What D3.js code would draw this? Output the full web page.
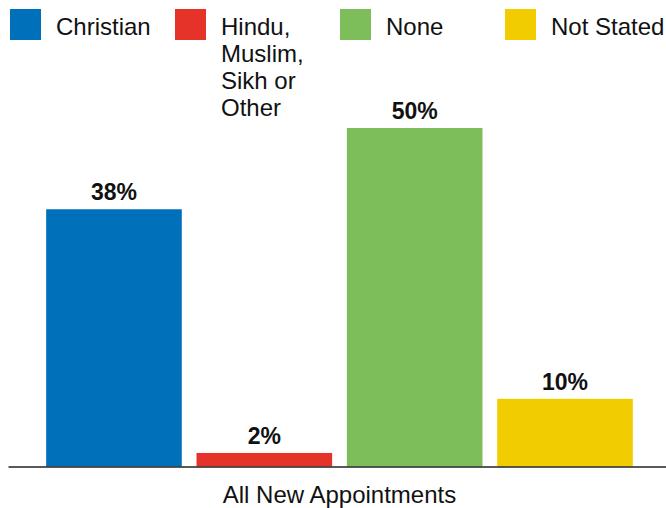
<!DOCTYPE html>
<html>
<head>
<meta charset="utf-8">
<script src="https://cdn.jsdelivr.net/npm/d3@7"></script>
<style>
  html, body { margin: 0; padding: 0; background: #fff; }
  svg { display: block; font-family: "Liberation Sans", Arial, sans-serif; }
</style>
</head>
<body>
<svg id="chart" width="666" height="508"></svg>
<script>
const categories = ["Christian", "Hindu, Muslim, Sikh or Other", "None", "Not Stated"];
const legendLines = [["Christian"], ["Hindu,", "Muslim,", "Sikh or", "Other"], ["None"], ["Not Stated"]];
const values = [38, 2, 50, 10];
const colors = ["#0070BA", "#E5332A", "#7DBD5A", "#F0CC00"];
const xLabel = "All New Appointments";

const svg = d3.select("#chart");
const baseline = 466.5;

const x = d3.scaleBand().domain(categories).range([38.8, 640.2]).paddingInner(0.098).paddingOuter(0.049);
const y = d3.scaleLinear().domain([0, 50]).range([baseline, 128]);

// bars
svg.append("g").selectAll("rect").data(values).join("rect")
  .attr("x", (d, i) => x(categories[i]))
  .attr("width", x.bandwidth())
  .attr("y", d => y(d))
  .attr("height", d => y(0) - y(d))
  .attr("fill", (d, i) => colors[i]);

// value labels
svg.append("g").selectAll("text").data(values).join("text")
  .attr("x", (d, i) => x(categories[i]) + x.bandwidth() / 2)
  .attr("y", d => y(d) - 9)
  .attr("text-anchor", "middle")
  .attr("font-size", 23)
  .attr("font-weight", "bold")
  .attr("fill", "#111")
  .text(d => d + "%");

// axis baseline
const xAxis = d3.axisBottom(x).tickSize(0).tickFormat("");
const axisG = svg.append("g").attr("transform", `translate(0,${baseline})`).call(xAxis);
axisG.select(".domain").remove();
axisG.append("line").attr("x1", 8.5).attr("x2", 666).attr("y1", 0.5).attr("y2", 0.5)
  .attr("stroke", "#222").attr("stroke-width", 1.5);

// x label
svg.append("text")
  .attr("x", (x.range()[0] + x.range()[1]) / 2)
  .attr("y", 503)
  .attr("text-anchor", "middle")
  .attr("font-size", 24)
  .attr("fill", "#111")
  .text(xLabel);

// legend
const legend = svg.append("g").selectAll("g").data(categories).join("g")
  .attr("transform", (d, i) => `translate(${10 + i * 165},9)`);
legend.append("rect").attr("width", 31).attr("height", 31).attr("fill", (d, i) => colors[i]);
legend.append("text")
  .attr("x", 46).attr("y", 26)
  .attr("font-size", 24)
  .attr("fill", "#111")
  .selectAll("tspan").data((d, i) => legendLines[i]).join("tspan")
  .attr("x", 46)
  .attr("dy", (d, j) => j === 0 ? 0 : 27)
  .text(d => d);
</script>
</body>
</html>
